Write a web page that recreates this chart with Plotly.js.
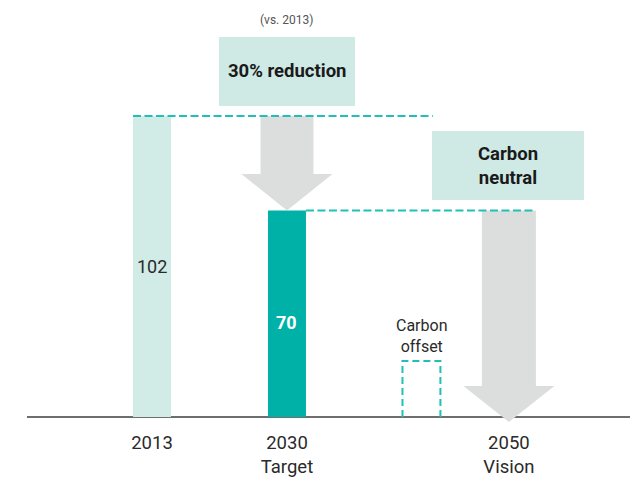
<!DOCTYPE html>
<html><head><meta charset="utf-8">
<script src="https://cdn.plot.ly/plotly-3.0.1.min.js"></script>
<style>html,body{margin:0;padding:0;background:#fff}#chart{width:630px;height:481px}</style>
</head><body><div id="chart"></div>
<script>
// ---- data ----
const years = ["2013", "2030", "2050"];
const yearSubLabels = ["", "Target", "Vision"];
const emissions = [102, 70];          // 2013 actual, 2030 target
const carbonOffset = 19;              // carbon offset (illustrative box)
const reductionLabel = "30% reduction";
const reductionBase = "(vs. 2013)";
const neutralLabel = "Carbon<br>neutral";
const offsetLabel = "Carbon<br>offset";

// ---- layout positions (x units) ----
const xPos = [1, 2, 3.644];
const offsetX = 2.996;
const barW = 0.281;
const FONT = "Roboto, 'Liberation Sans', sans-serif";

const TEAL = "#00b1a8", LIGHT = "#d1ebe7", BOX = "#cfe9e5", GREY = "#dcdddd", DASH = "#20bfb8", TXT = "#2a2a2a";

const tickText = years.map((y, i) => yearSubLabels[i] ? y + "<br>" + yearSubLabels[i] : y);

function arrowPath(xc, yTop, yTip, headLen, shaftHalf, headHalf) {
  const yh = yTip + headLen;
  return `M ${xc - shaftHalf},${yTop} L ${xc + shaftHalf},${yTop} L ${xc + shaftHalf},${yh} L ${xc + headHalf},${yh} L ${xc},${yTip} L ${xc - headHalf},${yh} L ${xc - shaftHalf},${yh} Z`;
}

const traces = [
  {
    type: "bar",
    x: xPos.slice(0, 2),
    y: emissions,
    width: barW,
    marker: { color: [LIGHT, TEAL], line: { width: 0 } },
    hoverinfo: "skip",
    showlegend: false
  },
  {
    type: "scatter", mode: "lines",
    x: [offsetX - barW / 2, offsetX - barW / 2, offsetX + barW / 2, offsetX + barW / 2],
    y: [0, carbonOffset, carbonOffset, 0],
    line: { color: DASH, width: 2, dash: "7px,4px" },
    hoverinfo: "skip", showlegend: false
  }
];

const shapes = [
  // arrow 2013 -> 2030
  { type: "path", xref: "x", yref: "y", layer: "above",
    path: arrowPath(xPos[1], emissions[0], emissions[1], 12.3, 0.196, 0.337),
    fillcolor: GREY, line: { width: 0 } },
  // arrow 2030 -> 2050
  { type: "path", xref: "x", yref: "y", layer: "above",
    path: arrowPath(xPos[2], emissions[1], -1.7, 12.2, 0.2, 0.337),
    fillcolor: GREY, line: { width: 0 } },
  // dashed reference lines
  { type: "line", xref: "x", yref: "y", x0: xPos[0] - barW / 2, x1: 3.08, y0: emissions[0], y1: emissions[0],
    line: { color: DASH, width: 2, dash: "8px,3.5px" } },
  { type: "line", xref: "x", yref: "y", x0: xPos[1] + barW / 2, x1: xPos[2] + 0.2, y0: emissions[1], y1: emissions[1],
    line: { color: DASH, width: 2, dash: "8px,3.5px" } },
  // label boxes
  { type: "rect", xref: "x", yref: "y", x0: 1.496, x1: 2.504, y0: 105.4, y1: 128.8,
    fillcolor: BOX, line: { width: 0 }, layer: "below" },
  { type: "rect", xref: "x", yref: "y", x0: 3.074, x1: 4.2, y0: 73.5, y1: 96.9,
    fillcolor: BOX, line: { width: 0 }, layer: "below" }
];

const annotations = [
  { x: xPos[1], y: 134.5, text: reductionBase, showarrow: false, font: { family: FONT, size: 12, color: "#555" } },
  { x: xPos[1], y: 117.1, text: reductionLabel, showarrow: false, font: { family: FONT, size: 18.5, color: "#1a1a1a", weight: "bold" } },
  { x: 3.637, y: 85.2, text: neutralLabel, showarrow: false, font: { family: FONT, size: 18.5, color: "#1a1a1a", weight: "bold" } },
  { x: offsetX, y: carbonOffset, yanchor: "bottom", yshift: 3, text: offsetLabel, showarrow: false, font: { family: FONT, size: 16, color: TXT } },
  { x: xPos[0], y: emissions[0] / 2, text: String(emissions[0]), showarrow: false, font: { family: FONT, size: 18, color: TXT } },
  { x: xPos[1], y: emissions[1] / 2, yshift: -9, text: String(emissions[1]), showarrow: false, font: { family: FONT, size: 18, color: "#fff", weight: "bold" } }
];

const layout = {
  width: 630, height: 481,
  margin: { l: 27, r: 0, t: 0, b: 56 },
  paper_bgcolor: "#fff", plot_bgcolor: "#fff",
  showlegend: false,
  xaxis: {
    range: [0.074, 4.541], tickvals: xPos, ticktext: tickText,
    showgrid: false, zeroline: false, showline: false, ticks: "",
    ticklabelstandoff: 4,
    tickfont: { family: FONT, size: 18.5, color: TXT }, fixedrange: true
  },
  yaxis: {
    range: [-2.71, 141.3], showgrid: false, showticklabels: false, ticks: "",
    zeroline: true, zerolinecolor: "#6e6e6e", zerolinewidth: 1.5, showline: false, fixedrange: true
  },
  shapes: shapes,
  annotations: annotations,
  font: { family: FONT }
};

Plotly.newPlot("chart", traces, layout, { displayModeBar: false, staticPlot: true });
</script></body></html>
